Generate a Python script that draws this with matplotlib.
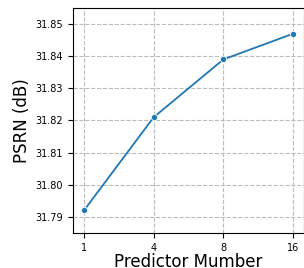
import matplotlib.pyplot as plt

predictors = ['1', '4', '8', '16']
psnr = [31.792, 31.821, 31.839, 31.847]

fig = plt.figure(figsize=(3.04, 2.68), dpi=100)
ax = fig.add_axes([73 / 304, 35 / 268, 231 / 304, 225 / 268])

pos = list(range(len(predictors)))
ax.plot(pos, psnr, color='#1f77b4', linewidth=1.3, marker='o', markersize=4.5,
        markeredgecolor='white', markeredgewidth=0.6)

ax.set_xticks(pos)
ax.set_xticklabels(predictors)
ax.set_xlim(-0.157, 3.157)
ax.set_ylim(31.785, 31.855)
ax.set_yticks([31.79, 31.80, 31.81, 31.82, 31.83, 31.84, 31.85])
ax.tick_params(labelsize=7)
ax.grid(True, linestyle='--', color='#bbbbbb', linewidth=0.8)
ax.set_xlabel('Predictor Mumber', fontsize=12, labelpad=0)
ax.set_ylabel('PSRN (dB)', fontsize=12, labelpad=3)

plt.savefig('out.png', dpi=100)
